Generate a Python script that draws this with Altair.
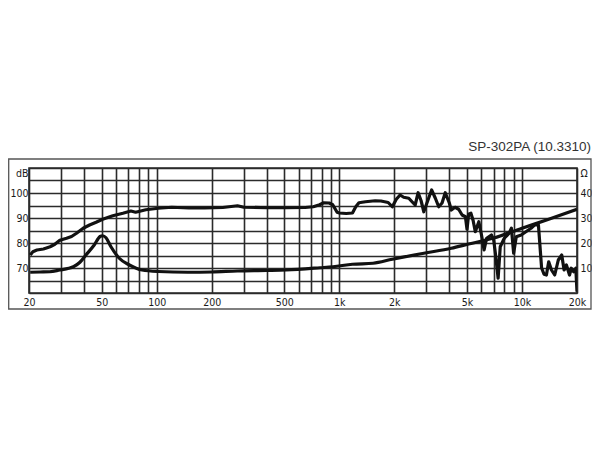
import altair as alt
import pandas as pd

# Frequency response (SPL, dB)
spl_freq = [20.3, 21, 22.1, 24.0, 26.1, 27.7, 29.5, 32.1, 34.2, 36.4, 39.6, 42.9, 46.6, 50.6,
            57.5, 65.3, 72.2, 76.7, 87.2, 102, 121, 150, 183, 230, 277, 300, 400, 509, 650,
            720, 780, 821, 880, 920, 972, 1000, 1090, 1180, 1230, 1280, 1390, 1570, 1690,
            1850, 1950, 2050, 2150, 2250, 2400, 2500, 2600, 2700, 2800, 2900, 3050, 3200,
            3350, 3500, 3650, 3800, 4000, 4100, 4300, 4500, 4700, 4900, 5000, 5100, 5250,
            5400, 5550, 5800, 6000, 6200, 6400, 6800, 7000, 7200, 7400, 7600, 8000, 8500,
            8750, 9000, 9300, 9900, 10500, 11200, 11700, 12300, 12800, 13200, 13600, 14000,
            14500, 15100, 15800, 16500, 17000, 17500, 18200, 18600, 19200, 19700, 20000]
spl_db = [75.2, 76.5, 77.2, 77.6, 78.5, 79.5, 81.1, 81.9, 82.6, 83.9, 85.9, 87.2, 88.3, 89.5,
          90.9, 91.9, 92.8, 92.3, 93.3, 93.9, 94.3, 94.0, 94.0, 94.2, 94.9, 94.3, 94.1, 94.1, 94.2,
          94.5, 95.3, 96.1, 96.0, 95.3, 92.3, 92.0, 91.8, 92.0, 94.5, 96.1, 96.5, 96.9, 96.8,
          96.2, 94.5, 97.5, 99.2, 98.3, 97.9, 96.5, 95.2, 100.1, 97.0, 92.5, 97.0, 101.2,
          98.0, 94.5, 96.0, 100.1, 96.0, 93.2, 94.3, 93.5, 91.2, 90.5, 85.5, 91.5, 91.9,
          89.0, 84.5, 88.5, 83.2, 77.2, 81.9, 83.2, 81.2, 74.0, 65.9, 78.5, 81.9, 83.9,
          85.9, 75.9, 82.5, 83.2, 84.5, 85.9, 87.2, 87.2, 70.0, 67.5, 67.2, 72.5,
          69.2, 67.2, 73.2, 75.2, 69.2, 71.2, 67.2, 69.9, 68.5, 69.9, 60.5]

# Impedance (Ohm)
imp_freq = [20.3, 23, 26, 29.5, 33, 35, 38, 41, 45.5, 49, 50.6, 52.8, 56.2, 62.4, 70.9, 83.2,
            102, 148, 200, 277, 400, 513, 785, 923, 1180, 1530, 1950, 2900, 4100, 5100,
            7000, 10000, 14000, 20000]
imp_ohm = [8.3, 8.4, 8.5, 9.2, 9.9, 10.5, 12.3, 15.2, 19.2, 22.6, 22.9, 22.1, 18.5, 13.9, 11.2, 9.2,
           8.6, 8.3, 8.4, 8.8, 9.0, 9.2, 10.1, 10.5, 11.5, 11.9, 13.5, 15.9, 17.9, 19.6,
           22.0, 25.9, 29.5, 33.5]

x_grid = [20, 30, 40, 50, 60, 70, 80, 90, 100, 200, 300, 400, 500, 600, 700, 800, 900,
          1000, 2000, 3000, 4000, 5000, 6000, 7000, 8000, 9000, 10000, 20000]
db_ticks = [60, 65, 70, 75, 80, 85, 90, 95, 100, 105, 110]
ohm_ticks = [0, 5, 10, 15, 20, 25, 30, 35, 40, 45, 50]
title_text = "SP-302PA (10.3310)"

PAD_L = 21
W, H = 577 - 8 - PAD_L, 125
FONT = "DejaVu Sans Condensed, DejaVu Sans, sans-serif"
GRID = "#2b2b2b"

xscale = alt.Scale(type="log", domain=[20, 20000], nice=False)

x_axis = alt.Axis(
    values=x_grid,
    labelExpr="indexof([20,50,100,200,500], datum.value) >= 0 ? '' + datum.value : "
              "(indexof([1000,2000,5000,10000,20000], datum.value) >= 0 ? (datum.value/1000) + 'k' : '')",
    ticks=False, domain=False, grid=True, gridColor=GRID, gridWidth=1.6, gridOpacity=1,
    labelFont=FONT, labelFontSize=10.5, labelColor="#1a1a1a", labelPadding=4,
    labelFlush=False, labelOverlap=False, title=None,
)

df_spl = pd.DataFrame({"f": spl_freq, "v": spl_db})
df_imp = pd.DataFrame({"f": imp_freq, "v": imp_ohm})

spl = alt.Chart(df_spl).mark_line(color="#111111", strokeWidth=3.2, clip=True, strokeJoin="round").encode(
    x=alt.X("f:Q", scale=xscale, axis=x_axis),
    y=alt.Y("v:Q", scale=alt.Scale(domain=[60, 110], nice=False, zero=False),
            axis=alt.Axis(orient="left", values=db_ticks,
                          labelExpr="datum.value == 110 ? 'dB' : ((datum.value % 10 == 0 && datum.value > 60) ? '' + datum.value : '')",
                          labelBaseline={"condition": {"test": "datum.value == 110", "value": "top"}, "value": "middle"},
                          ticks=False, domain=False, grid=True, gridColor=GRID, gridWidth=1.6, gridOpacity=1,
                          labelFont=FONT, labelFontSize=10.5, labelColor="#1a1a1a", labelPadding=1,
                          labelFlush=False, labelOverlap=False, title=None)),
)

imp = alt.Chart(df_imp).mark_line(color="#111111", strokeWidth=3.2, clip=True, interpolate="monotone").encode(
    x=alt.X("f:Q", scale=xscale, axis=x_axis),
    y=alt.Y("v:Q", scale=alt.Scale(domain=[0, 50], nice=False, zero=False),
            axis=alt.Axis(orient="right", values=ohm_ticks,
                          labelExpr="datum.value == 50 ? 'Ω' : ((datum.value % 10 == 0 && datum.value > 0) ? '' + datum.value : '')",
                          labelBaseline={"condition": {"test": "datum.value == 50", "value": "top"}, "value": "middle"},
                          ticks=False, domain=False, grid=False,
                          labelFont=FONT, labelFontSize=10.5, labelColor="#1a1a1a", labelPadding=3,
                          labelFlush=False, labelOverlap=False, title=None)),
)

frame = alt.Chart(alt.Data(values=[{}])).mark_rect(filled=False, stroke="#555555", strokeWidth=1.3).encode(
    x=alt.value(-PAD_L + 0.7), x2=alt.value(W + 14), y=alt.value(-9), y2=alt.value(H + 16)
)

title = alt.Chart(alt.Data(values=[{}])).mark_text(
    align="right", baseline="alphabetic", font="Liberation Sans, Arial, sans-serif",
    fontSize=13.5, color="#333333"
).encode(x=alt.value(W + 14), y=alt.value(-17), text=alt.value(title_text))

chart = alt.layer(frame, spl, imp, title).resolve_scale(y="independent").properties(
    width=W, height=H,
    autosize=alt.AutoSizeParams(type="none"),
    padding={"left": PAD_L, "top": 160, "right": 15, "bottom": 148},
    background="white",
).configure_view(stroke=GRID, strokeWidth=1.6)

chart.save("out.html", embed_options={"renderer": "svg", "actions": False})
